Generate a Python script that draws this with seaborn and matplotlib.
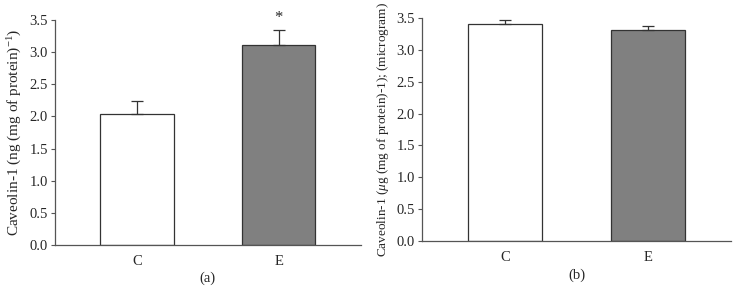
import numpy as np
import pandas as pd
import matplotlib
matplotlib.use("Agg")
import matplotlib.pyplot as plt
import seaborn as sns

groups = ["C", "E"]
values_a = [2.03, 3.11]
errors_a = [0.21, 0.24]
values_b = [3.40, 3.31]
errors_b = [0.06, 0.06]
bar_colors = ["#ffffff", "#808080"]

sns.set_theme(style="white")
plt.rcParams["font.family"] = ["Liberation Serif", "DejaVu Serif"]
plt.rcParams["mathtext.fontset"] = "custom"
plt.rcParams["mathtext.rm"] = "Liberation Serif"
plt.rcParams["mathtext.it"] = "Liberation Serif:italic"

fig = plt.figure(figsize=(7.35, 2.93), dpi=100)
ax_a = fig.add_axes([0.0748, 0.164, 0.416, 0.768])
ax_b = fig.add_axes([0.574, 0.177, 0.4206, 0.762])


def draw_panel(ax, values, errors, ylabel, tag, ylabel_size):
    df = pd.DataFrame({"group": groups, "value": values})
    sns.barplot(data=df, x="group", y="value", hue="group", palette=bar_colors,
                legend=False, errorbar=None, width=0.52, edgecolor="#333333",
                linewidth=0.9, ax=ax)
    ax.errorbar(np.arange(len(groups)), values, yerr=[[0] * len(errors), errors],
                fmt="none", ecolor="#333333", elinewidth=0.9, capsize=4,
                capthick=0.9)
    ax.set_xlim(-0.58, 1.58)
    ax.set_ylim(0, 3.5)
    ax.set_yticks(np.arange(0, 3.51, 0.5))
    ax.set_yticklabels([f"{t:.1f}" for t in np.arange(0, 3.51, 0.5)])
    ax.set_xlabel(tag, fontsize=10.5, labelpad=3)
    ax.set_ylabel(ylabel, fontsize=ylabel_size, labelpad=4)
    for s in ["top", "right"]:
        ax.spines[s].set_visible(False)
    for s in ["left", "bottom"]:
        ax.spines[s].set_color("#555555")
        ax.spines[s].set_linewidth(0.9)
    ax.tick_params(axis="y", direction="out", length=3, width=0.8,
                   color="#555555", labelsize=10.5, pad=2, left=True)
    ax.tick_params(axis="x", length=0, labelsize=10.5, pad=7)


draw_panel(ax_a, values_a, errors_a,
           "Caveolin-1 (ng (mg of protein)$^{-1}$)", "(a)", 11)
ax_a.text(1, values_a[1] + errors_a[1] + 0.06, "*", ha="center", va="bottom",
          fontsize=12)

draw_panel(ax_b, values_b, errors_b,
           "Caveolin-1 ($\\mu$g (mg of protein)-1); (microgram)", "(b)", 9.5)

fig.savefig("out.png", dpi=100)
